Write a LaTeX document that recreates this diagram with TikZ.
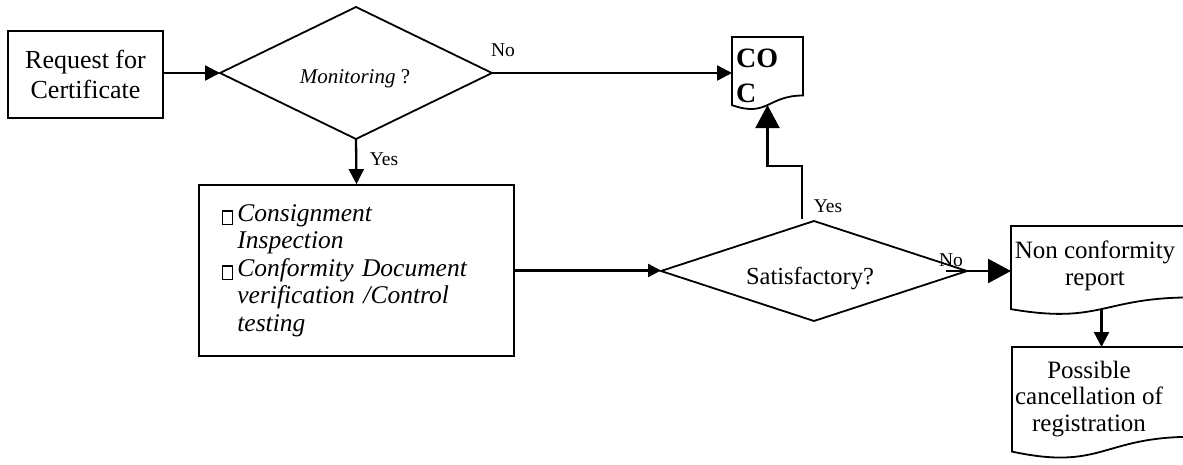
\documentclass[tikz,border=0pt]{standalone}
\usepackage{fontspec}
\setmainfont{Liberation Serif}
\usetikzlibrary{shapes.geometric,arrows.meta,calc}

\newcommand\hollowbul{{\setlength\fboxrule{1.2pt}\setlength\fboxsep{0pt}\raisebox{-2.5pt}{\fbox{\rule{0pt}{12pt}\hspace{9pt}}}}}

\newcommand\docoutline[2]{%
  \draw[docline] (#1.north west) -- (#1.north east) -- (#1.south east)
    .. controls (#1.south) and ($(#1.south)+(0,{0.305*#2})$) ..
    ($(#1.south west)+(0,{0.132*#2})$) coordinate[pos=0.5] (#1b) -- cycle;}

\begin{document}
\begin{tikzpicture}[x=1pt,y=-1pt,
  shp/.style={draw, line width=1.8pt},
  holder/.style={inner sep=0pt, outer sep=0pt},
  arr/.style={line width=2.3pt, -{Triangle[length=15pt,width=15pt]}},
  smarr/.style={line width=2.3pt, -{Triangle[length=13pt,width=13pt]}},
  bigarr/.style={line width=2.3pt, -{Triangle[length=23pt,width=24pt]}},
  lbl/.style={inner sep=0pt, font=\fontsize{19.5}{22}\selectfont},
  docline/.style={line width=1.8pt, line join=miter}]

\useasboundingbox (0,0) rectangle (1183,464);

% Request
\node[shp, holder, minimum width=155pt, minimum height=87pt, align=center,
      font=\fontsize{26}{30}\selectfont] (req) at (85.5,74.5) {Request for\\Certificate};

% Monitoring decision
\node[shp, diamond, holder, minimum width=272pt, minimum height=132pt] (mon) at (356,73) {};
\node[inner sep=0pt, font=\fontsize{21}{24}\selectfont, anchor=base] (monT) at (355,83) {\textit{Monitoring} ?};

% Inspection box
\node[shp, minimum height=171pt, text width=269pt, inner xsep=23pt, inner ysep=0pt, align=left,
      font=\itshape\fontsize{25.5}{27.5}\selectfont] (bx) at (356.5,270.5)
  {\begin{tabular}{@{}l@{\hspace{4pt}}l@{}}
   \hollowbul & Consignment\\
              & Inspection\\
   \hollowbul & Conformity Document\\
              & verification /Control\\
              & testing
   \end{tabular}};

% Satisfactory decision
\node[shp, diamond, holder, minimum width=306pt, minimum height=100pt] (sat) at (814,271) {};
\node[inner sep=0pt, font=\fontsize{24.5}{28}\selectfont, anchor=base] (satT) at (810,284) {Satisfactory?};

% COC document
\node[holder, minimum width=71pt, minimum height=58.5pt, anchor=north west] (coc) at (732,37) {};
\docoutline{coc}{73}
\node[anchor=base west, inner sep=0pt, font=\bfseries\fontsize{28}{33}\selectfont] (cocA) at (736,67) {CO};
\node[anchor=base west, inner sep=0pt, font=\bfseries\fontsize{28}{33}\selectfont] (cocB) at (736,102) {C};

% Non conformity document
\node[holder, minimum width=181pt, minimum height=71.4pt, anchor=north west] (nc) at (1011,226) {};
\docoutline{nc}{89}
\node[inner sep=0pt, align=center, font=\fontsize{25}{27}\selectfont] (ncT) at (1095,266) {Non conformity\\report};

% Possible cancellation document
\node[holder, minimum width=180pt, minimum height=89.8pt, anchor=north west] (pc) at (1012,347) {};
\docoutline{pc}{112}
\node[inner sep=0pt, align=center, font=\fontsize{25}{26.5}\selectfont] (pcT) at (1089,399) {Possible\\cancellation of\\registration};

% connectors
\draw[arr] (req.east |- mon.west) -- (mon.west);
\draw[arr] (mon.south) -- (bx.north);
\node[lbl] (yes1) at (384,159) {Yes};
\draw[arr] (mon.east) -- (mon.east -| coc.west);
\node[lbl] (no1) at (503,50) {No};
\draw[smarr] (bx.east) -- (bx.east -| sat.west);
\coordinate (sy) at (802,219);
\draw[bigarr] (sy) -- ++(0,-53) -| (cocb);
\node[lbl] (yes2) at (828,206) {Yes};
\coordinate (s2) at (946,271);
\draw[bigarr] (s2) -- (s2 -| nc.west);
\node[lbl] (no2) at (951,260) {No};
\draw[arr] (ncb) -- (ncb |- pc.north);
\end{tikzpicture}
\end{document}
